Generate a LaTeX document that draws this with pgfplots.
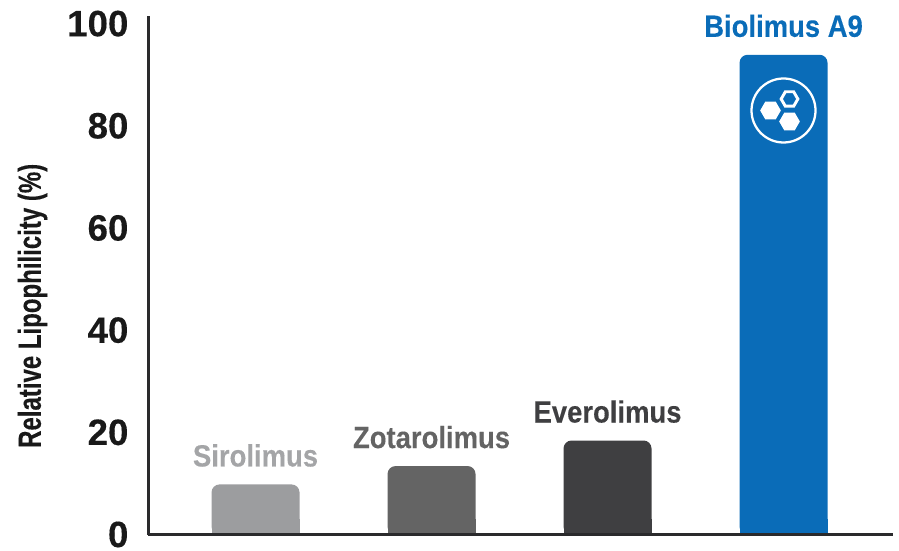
\documentclass[border=0pt]{standalone}
\usepackage{fontspec}
\setmainfont{Liberation Sans}[FakeStretch=0.895,BoldFeatures={FakeBold=0.25}]
\newfontfamily\tickfont{Liberation Sans}[FakeStretch=1.0,BoldFeatures={FakeBold=0.25}]
\newfontfamily\ylabfont{Liberation Sans}[FakeStretch=0.75,BoldFeatures={FakeBold=0.25}]
\usepackage{pgfplots}
\pgfplotsset{compat=1.18}
\usetikzlibrary{shapes.geometric}
\definecolor{cSiro}{HTML}{9C9D9F}
\definecolor{cSiroT}{HTML}{A4A5A7}
\definecolor{cZota}{HTML}{646464}
\definecolor{cEvero}{HTML}{3F3F41}
\definecolor{cBio}{HTML}{0A6CB8}
\definecolor{cAxis}{HTML}{2A2A2C}
\pgfplotsset{
  labelled/.style={fill=#1, draw=none, rounded corners=6pt,
    point meta=explicit symbolic, nodes near coords,
    nodes near coords style={font=\fontsize{23}{23}\selectfont\bfseries, anchor=center, inner sep=0pt, yshift=21.7pt, text=#1}},
  base/.style={fill=#1, draw=none, forget plot, y filter/.expression={min(y,3)}},
}
\begin{document}
\begin{tikzpicture}
\path[use as bounding box] (0pt,0pt) rectangle (674.25pt,412.5pt);
\begin{axis}[
  at={(111pt,11.625pt)}, anchor=south west,
  scale only axis, width=558.75pt, height=388.9pt,
  xmin=-0.611, xmax=3.622, ymin=0, ymax=101.5,
  axis lines=left, axis line style={-, line width=2.25pt, color=cAxis},
  axis on top,
  xtick=\empty, ytick={0,20,40,60,80,100},
  major tick length=0pt,
  /pgf/number format/assume math mode=true,
  yticklabel style={font=\tickfont\fontsize{27.5}{27.5}\selectfont\bfseries, text=black!90, inner sep=0pt, xshift=-14.5pt},
  ylabel={Relative Lipophilicity (\%)},
  ylabel style={font=\ylabfont\fontsize{24}{24}\selectfont\bfseries, text=black!90, at={(axis description cs:-0.155,0.441)}, anchor=center},
  ybar, bar width=66pt, bar shift=0pt,
  clip=false,
]
\addplot[base=cSiro] coordinates {(0,9.8)};
\addplot[base=cZota] coordinates {(1,13.4)};
\addplot[base=cEvero] coordinates {(2,18.4)};
\addplot[base=cBio] coordinates {(3,93.9)};
\addplot[labelled=cSiro, nodes near coords style={text=cSiroT}] coordinates {(0,9.8)[Sirolimus]};
\addplot[labelled=cZota] coordinates {(1,13.4)[Zotarolimus]};
\addplot[labelled=cEvero] coordinates {(2,18.4)[Everolimus]};
\addplot[labelled=cBio] coordinates {(3,93.9)[Biolimus A9]};
\end{axis}
% icon on the Biolimus bar
\begin{scope}[shift={(0pt,412.5pt)},x=0.75pt,y=-0.75pt]
\draw[white, line width=1.7pt] (783.5,110.5) circle[radius=32];
\node[regular polygon, regular polygon sides=6, fill=white, minimum size=15.5pt, inner sep=0pt] at (770.5,110.5) {};
\node[regular polygon, regular polygon sides=6, fill=white, minimum size=15.5pt, inner sep=0pt] at (789.5,121.5) {};
\node[regular polygon, regular polygon sides=6, draw=white, line width=2.2pt, minimum size=12.5pt, inner sep=0pt] at (789.5,99) {};
\end{scope}
\end{tikzpicture}
\end{document}
